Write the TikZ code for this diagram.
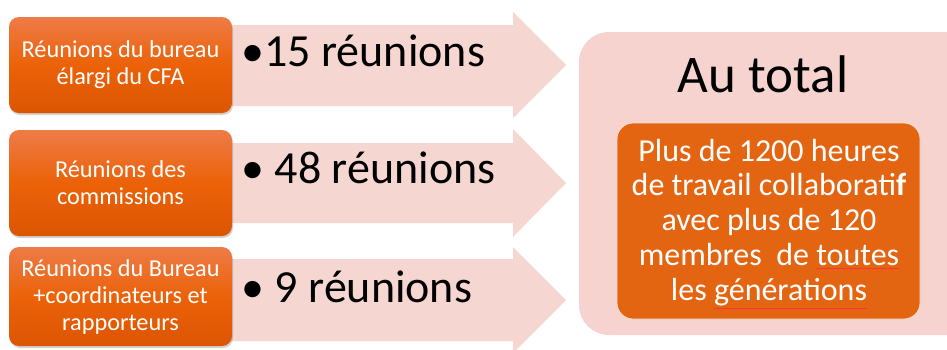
\documentclass[tikz,border=0pt]{standalone}
\usepackage{fontspec}
\setmainfont{Carlito}
\usetikzlibrary{shadows}
\definecolor{arrowpink}{HTML}{F6D6D1}
\definecolor{boxpink}{HTML}{F6D3CE}
\definecolor{orTop}{HTML}{EE7B47}
\definecolor{orMid}{HTML}{EB6208}
\definecolor{orBot}{HTML}{DC5502}
\definecolor{orInner}{HTML}{E46511}
\newcommand\redul[2]{\setbox0\hbox{#2}\rlap{\color{red!80}\rule[#1]{\wd0}{0.6pt}}#2}
\tikzset{
  leftbox/.style={rounded corners=10pt, top color=orTop, bottom color=orBot, middle color=orMid,
    drop shadow={opacity=0.35, shadow xshift=1pt, shadow yshift=-2pt}},
  lefttext/.style={text=white, align=center, font=\fontsize{24.3}{27}\selectfont},
  bigtext/.style={text=black, anchor=base west, font=\fontsize{46}{50}\selectfont},
  pinkarrow/.style={fill=arrowpink, draw=none},
}
\begin{document}
\begin{tikzpicture}[x=1pt,y=-1pt]
\useasboundingbox (0,0) rectangle (947,349);
\clip (0,0) rectangle (947,349);
\fill[white] (0,0) rectangle (947,349);
% arrows
\fill[pinkarrow] (200,25) -- (513,25) -- (513,12) -- (566,65) -- (513,118) -- (513,106) -- (200,106) -- cycle;
\fill[pinkarrow] (200,143) -- (513,143) -- (513,129) -- (566,183) -- (513,237) -- (513,223) -- (200,223) -- cycle;
\fill[pinkarrow] (200,259) -- (513,259) -- (513,247) -- (566,300) -- (513,353) -- (513,341) -- (200,341) -- cycle;
% left boxes
\path[leftbox] (9,17) rectangle (232,113);
\path[leftbox] (9,130) rectangle (232,236);
\path[leftbox] (9,247) rectangle (232,346);
\node[lefttext] (b1) at (120.5,65) {Réunions du bureau\\élargi du CFA};
\node[lefttext] (b2) at (120.5,183) {Réunions des\\commissions};
\node[lefttext] (b3) at (120.5,297) {Réunions du Bureau\\+coordinateurs et\\rapporteurs};
% counts
\node[bigtext] (n1) at (238,66) {•15 réunions};
\node[bigtext] (n2) at (238,183) {• 48 réunions};
\node[bigtext] (n3) at (238,302) {• 9 réunions};
% total
\fill[boxpink, rounded corners=30pt] (579,32) rectangle (980,335);
\node[anchor=base, font=\fontsize{53}{56}\selectfont] (tot) at (763,92) {Au total};
\filldraw[fill=orInner, draw=white!80!orInner, line width=0.8pt, rounded corners=16pt] (617,123) rectangle (920,319);
\node[text=white, align=center, font=\fontsize{32}{34.7}\selectfont] (tx) at (769,224)
  {Plus de 1200 heures\\de travail collaborati\textbf{f}\\avec plus de 120\\membres\ \ de \redul{-3pt}{toutes}\\les \redul{-9pt}{générations}};
\end{tikzpicture}
\end{document}
